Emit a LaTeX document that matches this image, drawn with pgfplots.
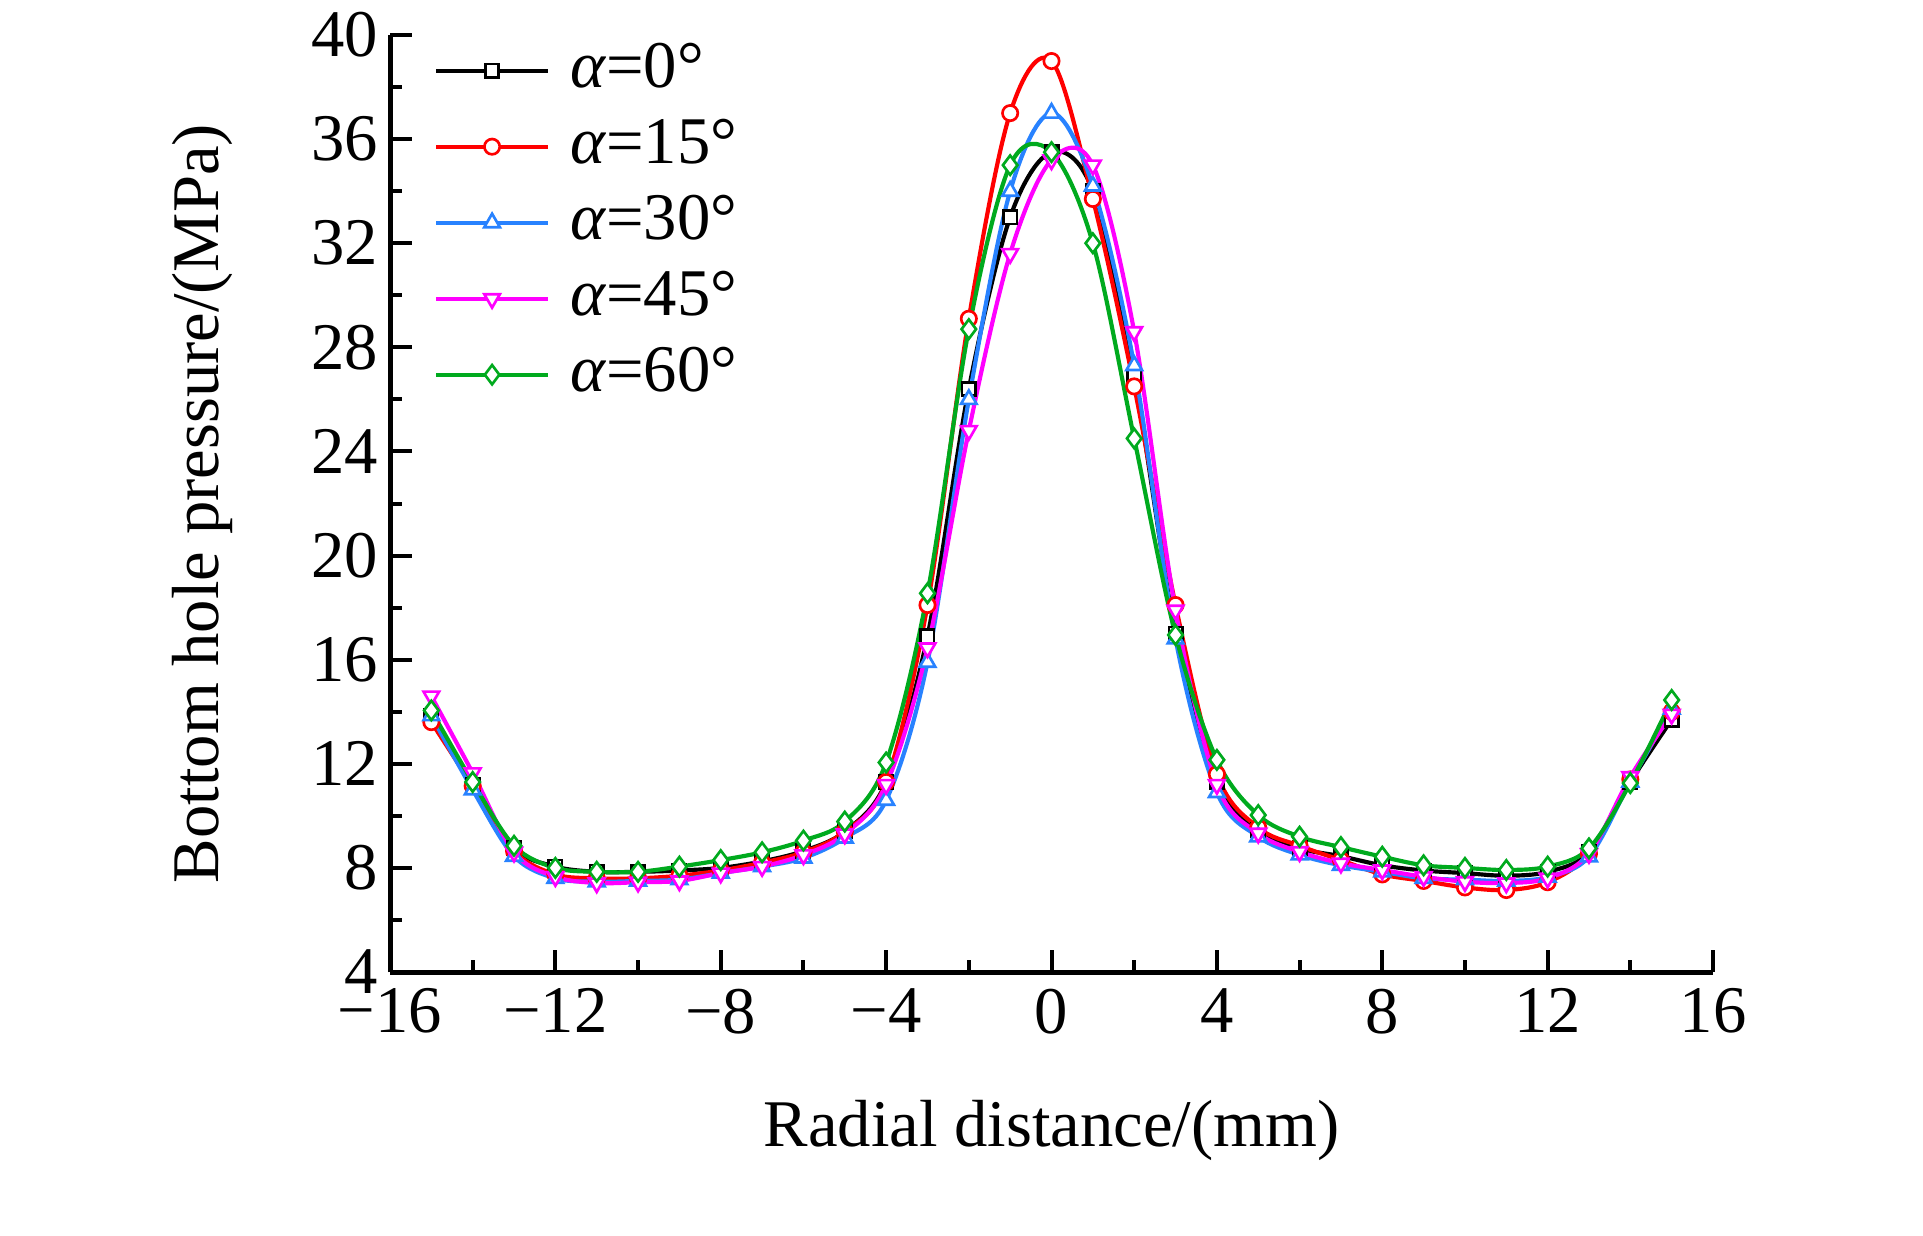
\documentclass[border=0pt]{standalone}
\usepackage{fontspec}
\setmainfont{Liberation Serif}
\usepackage{pgfplots}
\pgfplotsset{compat=1.18}
\definecolor{cBlue}{RGB}{40,130,255}
\definecolor{cGreen}{RGB}{0,170,30}
\definecolor{cMag}{RGB}{255,0,255}
\definecolor{cRed}{RGB}{255,0,0}
\begin{document}
\begin{tikzpicture}
\path[use as bounding box] (-117pt,-78.9pt) rectangle (459.9pt,291.6pt);
\begin{axis}[
  at={(0pt,0pt)}, anchor=south west,
  scale only axis, width=396.9pt, height=281.1pt,
  xmin=-16, xmax=16, ymin=4, ymax=40,
  axis x line*=bottom, axis y line*=left,
  axis line style={line width=1.5pt},
  tick align=inside,
  xtick={-16,-12,-8,-4,0,4,8,12,16},
  xticklabels={−16,−12,−8,−4,0,4,8,12,16},
  ytick={4,8,...,40},
  minor x tick num=1, minor y tick num=1,
  major tick length=6.6pt, minor tick length=3.6pt,
  every tick/.style={black, line width=1.2pt},
  /pgf/number format/assume math mode=true,
  tick label style={font=\fontsize{20}{24}\selectfont},
  xticklabel style={yshift=-1.5pt},
  label style={font=\fontsize{20}{24}\selectfont},
  xlabel={Radial distance/(mm)},
  ylabel={Bottom hole pressure/(MPa)},
  xlabel style={at={(axis description cs:0.5,0)}, anchor=center, yshift=-47.4pt},
  ylabel style={at={(axis description cs:0,0.5)}, anchor=center, yshift=56.4pt},
  legend cell align=left,
  legend style={draw=none, fill=none, at={(axis description cs:0,1)}, anchor=north west,
    xshift=13pt, yshift=-0.5pt, inner sep=0pt, row sep=2.8pt,
    font=\fontsize{20}{24}\selectfont,
    nodes={inner sep=1pt, text height=14pt, text depth=4pt},
    /tikz/every odd column/.append style={column sep=5pt}},
  legend image code/.code={\draw[mark repeat=2,mark phase=2,#1] plot coordinates {(0pt,0pt) (16.8pt,0pt) (33.6pt,0pt)};},
  every axis plot/.append style={line width=1.25pt, smooth, tension=0.55},
  clip=false,
]
\addplot[black, mark=square*, mark size=2pt, mark options={solid, fill=white, line width=0.8pt}] coordinates {
(-15,13.85) (-14,11.2) (-13,8.75) (-12,8.05) (-11,7.85) (-10,7.85) (-9,7.9) (-8,8.0) (-7,8.25) (-6,8.65) (-5,9.4) (-4,11.3) (-3,16.9) (-2,26.4) (-1,33.0) (0,35.5) (1,34.0) (2,26.9) (3,17.0) (4,11.3) (5,9.45) (6,8.75) (7,8.45) (8,8.1) (9,7.9) (10,7.8) (11,7.7) (12,7.85) (13,8.6) (14,11.3) (15,13.7)};
\addlegendentry{\textit{α}=0°}
\addplot[cRed, mark=*, mark size=2.3pt, mark options={solid, fill=white, line width=0.8pt}] coordinates {
(-15,13.6) (-14,11.15) (-13,8.65) (-12,7.75) (-11,7.6) (-10,7.6) (-9,7.7) (-8,7.9) (-7,8.2) (-6,8.6) (-5,9.4) (-4,11.3) (-3,18.1) (-2,29.1) (-1,37.0) (0,39.0) (1,33.7) (2,26.5) (3,18.1) (4,11.6) (5,9.55) (6,8.85) (7,8.3) (8,7.75) (9,7.5) (10,7.25) (11,7.15) (12,7.45) (13,8.55) (14,11.4) (15,14.0)};
\addlegendentry{\textit{α}=15°}
\addplot[cBlue, mark=triangle*, mark size=2.7pt, mark options={solid, fill=white, line width=0.8pt}] coordinates {
(-15,13.85) (-14,11.0) (-13,8.45) (-12,7.6) (-11,7.47) (-10,7.5) (-9,7.55) (-8,7.8) (-7,8.05) (-6,8.38) (-5,9.15) (-4,10.6) (-3,15.9) (-2,26.0) (-1,34.0) (0,37.0) (1,34.2) (2,27.3) (3,16.8) (4,10.9) (5,9.2) (6,8.5) (7,8.1) (8,7.85) (9,7.6) (10,7.55) (11,7.5) (12,7.65) (13,8.43) (14,11.3) (15,14.1)};
\addlegendentry{\textit{α}=30°}
\addplot[cMag, mark=triangle*, mark size=2.7pt, mark options={solid, fill=white, line width=0.8pt, rotate=180}] coordinates {
(-15,14.6) (-14,11.65) (-13,8.6) (-12,7.66) (-11,7.42) (-10,7.45) (-9,7.5) (-8,7.8) (-7,8.05) (-6,8.5) (-5,9.3) (-4,11.2) (-3,16.45) (-2,24.8) (-1,31.6) (0,35.2) (1,35.0) (2,28.6) (3,17.9) (4,11.2) (5,9.33) (6,8.62) (7,8.18) (8,7.92) (9,7.66) (10,7.47) (11,7.42) (12,7.6) (13,8.55) (14,11.5) (15,13.9)};
\addlegendentry{\textit{α}=45°}
\addplot[cGreen, mark=diamond*, mark size=2.9pt, mark options={solid, fill=white, line width=0.8pt}] coordinates {
(-15,14.05) (-14,11.3) (-13,8.85) (-12,8.0) (-11,7.85) (-10,7.85) (-9,8.05) (-8,8.3) (-7,8.6) (-6,9.05) (-5,9.78) (-4,12.05) (-3,18.55) (-2,28.7) (-1,35.0) (0,35.5) (1,32.0) (2,24.5) (3,16.95) (4,12.15) (5,10.03) (6,9.2) (7,8.8) (8,8.43) (9,8.1) (10,8.0) (11,7.92) (12,8.05) (13,8.75) (14,11.26) (15,14.45)};
\addlegendentry{\textit{α}=60°}
\end{axis}
\end{tikzpicture}
\end{document}
